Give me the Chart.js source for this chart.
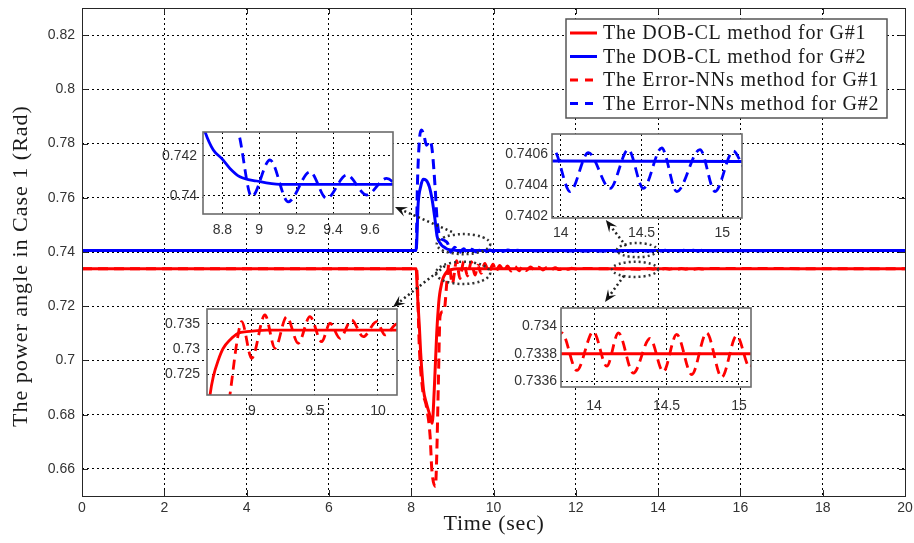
<!DOCTYPE html>
<html lang="en">
<head>
<meta charset="UTF-8">
<title>Power angle - Case 1</title>
<script src="https://cdn.jsdelivr.net/npm/chart.js"></script>
<style>
  body { margin: 0; background: #fff; }
  #wrap { position: relative; width: 914px; height: 543px; overflow: hidden; }
  #wrap canvas { position: absolute; }
</style>
</head>
<body>

<div id="wrap">
  <canvas id="mainChart" width="914" height="543" style="left:0;top:0"></canvas>
  <canvas id="zoomBlue1" width="242" height="110" style="left:158px;top:126px"></canvas>
  <canvas id="zoomBlue2" width="250" height="112" style="left:500px;top:128px"></canvas>
  <canvas id="zoomRed1" width="250" height="116" style="left:155px;top:303px"></canvas>
  <canvas id="zoomRed2" width="254" height="112" style="left:505px;top:302px"></canvas>
</div>

<script>
// ---- data (time in s, angle in rad) ----
const tDobG1 = [0, 8.12, 8.15, 8.20, 8.23, 8.30, 8.37, 8.44, 8.51, 8.56, 8.62, 8.667, 8.693, 8.733, 8.772, 8.825, 8.891, 8.958, 9.117, 20];
const vDobG1 = [0.7338, 0.7338, 0.725, 0.712, 0.7028, 0.689, 0.6842, 0.6805, 0.6768, 0.689, 0.710, 0.72097, 0.72459, 0.72789, 0.7302, 0.73184, 0.73316, 0.73348, 0.7338, 0.7338];

const tDobG2 = [0, 8.12, 8.17, 8.23, 8.29, 8.36, 8.44, 8.51, 8.58, 8.63, 8.706, 8.751, 8.796, 8.841, 8.895, 8.986, 9.112, 20];
const vDobG2 = [0.74054, 0.74054, 0.758, 0.7641, 0.7668, 0.7665, 0.7641, 0.7592, 0.7518, 0.7457, 0.7432, 0.74229, 0.74187, 0.74137, 0.74095, 0.74074, 0.74057, 0.74054];

const tErrG1 = [0, 8.13, 8.20, 8.28, 8.37, 8.46, 8.50, 8.59, 8.62, 8.66, 8.70, 8.76, 8.81, 8.825, 8.883,
  8.918, 8.998, 9.103, 9.183, 9.275, 9.367, 9.46, 9.553, 9.619, 9.698, 9.791, 9.883, 9.99, 10.056, 10.15,
  10.25, 10.34, 10.43, 10.52, 10.62, 10.71, 10.80, 10.90, 11.0, 11.1, 11.2, 11.3, 11.4, 11.5, 11.6,
  11.7, 11.8, 11.9, 12.0, 12.1, 13.68, 13.777, 13.881, 13.995, 14.088, 14.168, 14.271, 14.386, 14.478, 14.570,
  14.674, 14.777, 14.881, 14.984, 15.076, 15.15, 20];
const vErrG1 = [0.7338, 0.7338, 0.7039, 0.689, 0.683, 0.672, 0.660, 0.6535, 0.6645, 0.6916, 0.7162, 0.718, 0.7185, 0.721, 0.73184,
  0.73545, 0.72822, 0.73678, 0.7302, 0.73644, 0.73119, 0.73644, 0.7315, 0.73514, 0.73217, 0.73579, 0.73249, 0.73545, 0.73283, 0.7350,
  0.7329, 0.7348, 0.7330, 0.7347, 0.7331, 0.7346, 0.7332, 0.7345, 0.7333, 0.7344, 0.7334, 0.7343, 0.7335, 0.7342, 0.7335,
  0.7341, 0.7336, 0.7340, 0.7337, 0.7339, 0.73368, 0.73395, 0.73368, 0.73396, 0.73371, 0.73395, 0.73366, 0.73391, 0.73367, 0.73394,
  0.73365, 0.73395, 0.73363, 0.73393, 0.7337, 0.7339, 0.7338];

const tErrG2 = [0, 8.12, 8.15, 8.20, 8.25, 8.31, 8.37, 8.46, 8.51, 8.58, 8.63, 8.70, 8.80, 8.886, 8.959,
  9.058, 9.157, 9.275, 9.365, 9.474, 9.582, 9.69, 9.80, 9.91, 10.02, 10.13, 10.24, 10.35, 10.46, 10.57,
  10.70, 13.85, 13.954, 14.058, 14.171, 14.305, 14.418, 14.511, 14.625, 14.718, 14.862, 14.955, 15.068, 15.15, 20];
const vErrG2 = [0.74054, 0.74054, 0.7641, 0.7813, 0.785, 0.7831, 0.7794, 0.781, 0.7776, 0.7641, 0.7518, 0.7456, 0.7443, 0.7432, 0.73995,
  0.74179, 0.7397, 0.7412, 0.73987, 0.74104, 0.74004, 0.74087, 0.7401, 0.7407, 0.7402, 0.7407, 0.7403, 0.7407, 0.7404, 0.7406,
  0.74054, 0.74038, 0.74063, 0.74036, 0.74061, 0.74038, 0.74063, 0.74038, 0.74064, 0.74036, 0.74063, 0.74036, 0.74062, 0.7405, 0.74054];

const seriesLabels = ['The DOB-CL method for G#1', 'The DOB-CL method for G#2',
  'The Error-NNs method for G#1', 'The Error-NNs method for G#2'];

// ticks
const mainXTicks = [0, 2, 4, 6, 8, 10, 12, 14, 16, 18, 20];
const mainYTicks = [0.66, 0.68, 0.7, 0.72, 0.74, 0.76, 0.78, 0.8, 0.82];
const blue1XTicks = [8.8, 9, 9.2, 9.4, 9.6];
const blue1YTicks = [0.74, 0.742];
const blue2XTicks = [14, 14.5, 15];
const blue2YTicks = [0.7402, 0.7404, 0.7406];
const red1XTicks = [9, 9.5, 10];
const red1YTicks = [0.725, 0.73, 0.735];
const red2XTicks = [14, 14.5, 15];
const red2YTicks = [0.7336, 0.7338, 0.734];

// dotted ellipses / arrows on the main plot, in data units
const ellipses = [
  {t: 9.27, v: 0.7429, rt: 0.65, rv: 0.0037},
  {t: 9.26, v: 0.7323, rt: 0.66, rv: 0.0041},
  {t: 13.49, v: 0.7407, rt: 0.49, rv: 0.0026},
  {t: 13.44, v: 0.7336, rt: 0.56, rv: 0.0028}
];
const arrows = [
  {from: [8.99, 0.7474], to: [7.606, 0.7566]},
  {from: [8.82, 0.7348], to: [7.558, 0.7197]},
  {from: [13.22, 0.7422], to: [12.73, 0.7518]},
  {from: [13.17, 0.7312], to: [12.71, 0.7216]}
];

const RED = '#ff0000';
const BLUE = '#0000ff';
const TICK_FONT = {family: 'Liberation Sans, Arial, sans-serif', size: 14};

function pts(ts, vs) {
  return ts.map((t, i) => ({x: t, y: vs[i]}));
}

function line(label, ts, vs, color, dashed, width) {
  return {
    label: label,
    data: pts(ts, vs),
    borderColor: color,
    backgroundColor: color,
    borderWidth: width,
    borderDash: dashed ? [10, 6] : [],
    pointRadius: 0,
    cubicInterpolationMode: 'monotone',
    fill: false,
    clip: 0
  };
}

function fmt(v) {
  return String(+v.toFixed(4));
}

function xAxis(min, max, ticks, height, pad) {
  return {
    type: 'linear', min: min, max: max,
    grid: {color: '#000', lineWidth: 1, drawTicks: false},
    border: {display: false, dash: [2, 3]},
    ticks: {padding: pad, color: '#333', font: TICK_FONT, maxRotation: 0, callback: fmt},
    afterBuildTicks: s => { s.ticks = ticks.map(v => ({value: v})); },
    afterFit: s => { s.height = height; s.paddingLeft = 0; s.paddingRight = 0; }
  };
}

function yAxis(min, max, ticks, width, pad) {
  return {
    type: 'linear', min: min, max: max,
    grid: {color: '#000', lineWidth: 1, drawTicks: false},
    border: {display: false, dash: [2, 3]},
    ticks: {padding: pad, color: '#333', font: TICK_FONT, callback: fmt},
    afterBuildTicks: s => { s.ticks = ticks.map(v => ({value: v})); },
    afterFit: s => { s.width = width; s.paddingTop = 0; s.paddingBottom = 0; }
  };
}

// white background, box, inward ticks, ellipses, arrows, legend and axis titles
const mainDecor = {
  id: 'mainDecor',
  beforeDraw(chart) {
    const ctx = chart.ctx;
    ctx.save();
    ctx.fillStyle = '#fff';
    ctx.fillRect(0, 0, chart.width, chart.height);
    ctx.restore();
  },
  afterDraw(chart) {
    const {ctx, chartArea: a, scales: {x, y}} = chart;
    ctx.save();

    ctx.strokeStyle = '#262626';
    ctx.lineWidth = 1;
    ctx.setLineDash([]);
    ctx.strokeRect(a.left + 0.5, a.top + 0.5, a.right - a.left, a.bottom - a.top);
    ctx.beginPath();
    mainXTicks.forEach(t => {
      const px = Math.round(x.getPixelForValue(t)) + 0.5;
      ctx.moveTo(px, a.bottom); ctx.lineTo(px, a.bottom - 6);
      ctx.moveTo(px, a.top); ctx.lineTo(px, a.top + 6);
    });
    mainYTicks.forEach(v => {
      const py = Math.round(y.getPixelForValue(v)) + 0.5;
      ctx.moveTo(a.left, py); ctx.lineTo(a.left + 6, py);
      ctx.moveTo(a.right, py); ctx.lineTo(a.right - 6, py);
    });
    ctx.stroke();

    // ellipses
    ctx.strokeStyle = '#333';
    ctx.lineWidth = 2.5;
    ctx.setLineDash([2, 3]);
    ellipses.forEach(e => {
      const cx = x.getPixelForValue(e.t), cy = y.getPixelForValue(e.v);
      const rx = x.getPixelForValue(e.t + e.rt) - cx;
      const ry = cy - y.getPixelForValue(e.v + e.rv);
      ctx.beginPath();
      ctx.ellipse(cx, cy, rx, ry, 0, 0, Math.PI * 2);
      ctx.stroke();
    });

    // arrows
    arrows.forEach(ar => {
      const x0 = x.getPixelForValue(ar.from[0]), y0 = y.getPixelForValue(ar.from[1]);
      const x1 = x.getPixelForValue(ar.to[0]), y1 = y.getPixelForValue(ar.to[1]);
      const ang = Math.atan2(y1 - y0, x1 - x0);
      const c = Math.cos(ang), s = Math.sin(ang);
      const len = 12, half = 5;
      ctx.strokeStyle = '#222';
      ctx.setLineDash([2, 3]);
      ctx.beginPath();
      ctx.moveTo(x0, y0);
      ctx.lineTo(x1 - len * 0.7 * c, y1 - len * 0.7 * s);
      ctx.stroke();
      ctx.setLineDash([]);
      ctx.fillStyle = '#111';
      ctx.beginPath();
      ctx.moveTo(x1, y1);
      ctx.lineTo(x1 - len * c + half * s, y1 - len * s - half * c);
      ctx.lineTo(x1 - len * 0.6 * c, y1 - len * 0.6 * s);
      ctx.lineTo(x1 - len * c - half * s, y1 - len * s + half * c);
      ctx.closePath();
      ctx.fill();
    });

    // legend
    const lx = a.right - 339, ly = a.top + 11, lw = 321, lh = 99;
    ctx.setLineDash([]);
    ctx.fillStyle = '#fff';
    ctx.fillRect(lx, ly, lw, lh);
    ctx.strokeStyle = '#555';
    ctx.lineWidth = 1.5;
    ctx.strokeRect(lx, ly, lw, lh);
    ctx.font = '20px "Liberation Serif", "Times New Roman", serif';
    ctx.textBaseline = 'middle';
    ctx.textAlign = 'left';
    chart.data.datasets.forEach((ds, i) => {
      const ry = ly + 14 + i * 23.5;
      ctx.strokeStyle = ds.borderColor;
      ctx.lineWidth = 3;
      ctx.setLineDash(ds.borderDash.length ? [8, 7] : []);
      ctx.beginPath();
      ctx.moveTo(lx + 4, ry);
      ctx.lineTo(lx + 31, ry);
      ctx.stroke();
      ctx.setLineDash([]);
      ctx.fillStyle = '#1a1a1a';
      ctx.letterSpacing = '0.8px';
      ctx.fillText(ds.label, lx + 37, ry + 1);
    });

    // axis titles
    ctx.fillStyle = '#1a1a1a';
    ctx.font = '22px "Liberation Serif", "Times New Roman", serif';
    ctx.textAlign = 'center';
    ctx.letterSpacing = '0.7px';
    ctx.fillText('Time (sec)', (a.left + a.right) / 2 + 0.5, 524);
    ctx.translate(21, (a.top + a.bottom) / 2 + 14);
    ctx.rotate(-Math.PI / 2);
    ctx.letterSpacing = '1px';
    ctx.fillText('The power angle in Case 1 (Rad)', 0, 0);

    ctx.restore();
  }
};

// inset: white plot area and grey frame
const insetBox = {
  id: 'insetBox',
  beforeDraw(chart) {
    const {ctx, chartArea: a} = chart;
    ctx.save();
    ctx.fillStyle = '#fff';
    ctx.fillRect(a.left, a.top, a.right - a.left, a.bottom - a.top);
    ctx.restore();
  },
  afterDraw(chart) {
    const {ctx, chartArea: a} = chart;
    ctx.save();
    ctx.strokeStyle = '#6b6b6b';
    ctx.lineWidth = 1.6;
    ctx.strokeRect(a.left, a.top, a.right - a.left, a.bottom - a.top);
    ctx.restore();
  }
};

new Chart(document.getElementById('mainChart'), {
  type: 'line',
  data: {
    datasets: [
      line(seriesLabels[0], tDobG1, vDobG1, RED, false, 3),
      line(seriesLabels[1], tDobG2, vDobG2, BLUE, false, 3),
      line(seriesLabels[2], tErrG1, vErrG1, RED, true, 3),
      line(seriesLabels[3], tErrG2, vErrG2, BLUE, true, 3)
    ]
  },
  options: {
    responsive: false,
    animation: false,
    devicePixelRatio: 1,
    layout: {padding: {top: 8, right: 9, left: 0, bottom: 0}},
    plugins: {legend: {display: false}, tooltip: {enabled: false}},
    scales: {
      x: xAxis(0, 20, mainXTicks, 47, 4),
      y: yAxis(0.65, 0.83, mainYTicks, 82, 7)
    }
  },
  plugins: [mainDecor]
});

function inset(id, sets, xr, yr, xt, yt, box) {
  return new Chart(document.getElementById(id), {
    type: 'line',
    data: {datasets: sets},
    options: {
      responsive: false,
      animation: false,
      devicePixelRatio: 1,
      layout: {padding: {top: box.top, right: box.right, left: 0, bottom: 0}},
      plugins: {legend: {display: false}, tooltip: {enabled: false}},
      scales: {
        x: xAxis(xr[0], xr[1], xt, box.xh, box.xpad),
        y: yAxis(yr[0], yr[1], yt, box.yw, box.ypad)
      }
    },
    plugins: [insetBox]
  });
}

inset('zoomBlue1',
  [line(seriesLabels[1], tDobG2, vDobG2, BLUE, false, 2.8), line(seriesLabels[3], tErrG2, vErrG2, BLUE, true, 2.8)],
  [8.695, 9.725], [0.73909, 0.74319], blue1XTicks, blue1YTicks,
  {top: 6, right: 7, xh: 22, xpad: 8, yw: 45, ypad: 6});

inset('zoomBlue2',
  [line(seriesLabels[1], tDobG2, vDobG2, BLUE, false, 2.8), line(seriesLabels[3], tErrG2, vErrG2, BLUE, true, 2.8)],
  [13.946, 15.122], [0.74019, 0.74073], blue2XTicks, blue2YTicks,
  {top: 6, right: 8, xh: 22, xpad: 7, yw: 52, ypad: 4});

inset('zoomRed1',
  [line(seriesLabels[0], tDobG1, vDobG1, RED, false, 2.8), line(seriesLabels[2], tErrG1, vErrG1, RED, true, 2.8)],
  [8.643, 10.151], [0.72097, 0.73796], red1XTicks, red1YTicks,
  {top: 6, right: 8, xh: 24, xpad: 8, yw: 52, ypad: 7});

inset('zoomRed2',
  [line(seriesLabels[0], tDobG1, vDobG1, RED, false, 2.8), line(seriesLabels[2], tErrG1, vErrG1, RED, true, 2.8)],
  [13.772, 15.083], [0.73356, 0.73413], red2XTicks, red2YTicks,
  {top: 6, right: 8, xh: 27, xpad: 11, yw: 56, ypad: 4});
</script>

</body>
</html>
